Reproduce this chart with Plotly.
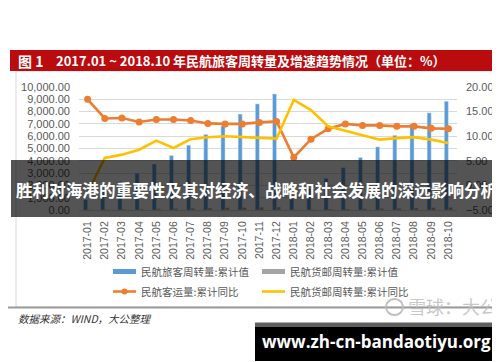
import plotly.graph_objects as go

months = ["2017-01","2017-02","2017-03","2017-04","2017-05","2017-06","2017-07","2017-08",
          "2017-09","2017-10","2017-11","2017-12","2018-01","2018-02","2018-03","2018-04",
          "2018-05","2018-06","2018-07","2018-08","2018-09","2018-10"]
passenger_rpk_cum = [850, 1640, 2300, 3000, 3740, 4440, 5270, 6150, 6830, 7800, 8630, 9435,
                     880, 1760, 2580, 3440, 4270, 5135, 6075, 7015, 7900, 8845]
cargo_tk_cum = [18, 37, 57, 77, 98, 118, 139, 159, 180, 201, 222, 243,
                19, 38, 60, 81, 103, 125, 147, 169, 191, 213]
passenger_yoy = [17.5, 13.6, 13.7, 12.9, 13.4, 13.4, 13.2, 12.6, 12.5, 12.5, 12.8, 13.0,
                 5.7, 9.4, 11.5, 12.5, 12.2, 12.2, 12.0, 12.0, 11.6, 11.5]
cargo_yoy = [-1.5, 5.6, 6.25, 7.25, 9.1, 7.6, 9.4, 9.8, 10.0, 9.85, 9.6, 9.5,
             17.4, 15.3, 12.0, 11.1, 10.3, 9.3, 9.6, 9.8, 9.3, 8.6]

legend_names = ["民航旅客周转量:累计值", "民航货邮周转量:累计值", "民航客运量:累计同比", "民航货邮周转量:累计同比"]
title_text = "2017.01 ~ 2018.10 年民航旅客周转量及增速趋势情况（单位：%）"
overlay_text = "胜利对海港的重要性及其对经济、战略和社会发展的深远影响分析"
source_text = "数据来源：WIND，大公整理"
url_text = "www.zh-cn-bandaotiyu.org"

W, H = 500, 362
L, R, T, B = 71, 449, 79, 202
def px(x):
    return (x - L) / (R - L)
def py(y):
    return (B - y) / (B - T)

BLUE, GRAY, ORANGE, YELLOW = "#5B9BD5", "#A5A5A5", "#ED7D31", "#FFC000"
CJK = "Noto Sans CJK SC"
TXT = "#595959"

fig = go.Figure()
fig.add_bar(x=months, y=passenger_rpk_cum, name=legend_names[0], marker_color=BLUE)
fig.add_bar(x=months, y=cargo_tk_cum, name=legend_names[1], marker_color=GRAY)
fig.add_scatter(x=months, y=passenger_yoy, name=legend_names[2], yaxis="y2", mode="lines+markers",
                line=dict(color=ORANGE, width=2.6), marker=dict(color=ORANGE, size=7))
fig.add_scatter(x=months, y=cargo_yoy, name=legend_names[3], yaxis="y2", mode="lines",
                line=dict(color=YELLOW, width=2.6))

shapes = []
annotations = []

# chart frame
shapes.append(dict(type="rect", xref="paper", yref="paper", x0=px(8), x1=px(493), y0=py(299), y1=py(63),
                   line=dict(color="#D9D9D9", width=1), fillcolor="rgba(0,0,0,0)", layer="below"))
shapes.append(dict(type="line", xref="paper", yref="paper", x0=px(0), x1=px(500), y0=py(299.5), y1=py(299.5),
                   line=dict(color="#9A9A9A", width=2)))
# title banner
shapes.append(dict(type="rect", xref="paper", yref="paper", x0=px(2), x1=px(497), y0=py(63), y1=py(42),
                   line=dict(width=0), fillcolor="#BA0C0F"))
annotations.append(dict(xref="paper", yref="paper", x=px(8), y=py(52.5), xanchor="left", yanchor="middle",
                        text="<b>图 1</b>", showarrow=False, font=dict(family=CJK, size=14, color="white")))
annotations.append(dict(xref="paper", yref="paper", x=px(46), y=py(52.5), xanchor="left", yanchor="middle",
                        text="<b>" + title_text + "</b>", showarrow=False,
                        font=dict(family=CJK, size=13, color="white")))

# custom legend
lx1, lx2 = 105, 254
ly1, ly2 = 263.5, 283.5
shapes.append(dict(type="rect", xref="paper", yref="paper", x0=px(lx1), x1=px(lx1 + 23), y0=py(ly1 + 2.5), y1=py(ly1 - 2.5),
                   line=dict(width=0), fillcolor=BLUE))
shapes.append(dict(type="rect", xref="paper", yref="paper", x0=px(lx2), x1=px(lx2 + 23), y0=py(ly1 + 2.5), y1=py(ly1 - 2.5),
                   line=dict(width=0), fillcolor=GRAY))
shapes.append(dict(type="line", xref="paper", yref="paper", x0=px(lx1), x1=px(lx1 + 23), y0=py(ly2), y1=py(ly2),
                   line=dict(color=ORANGE, width=2.6)))
shapes.append(dict(type="circle", xref="paper", yref="paper", x0=px(lx1 + 8.5), x1=px(lx1 + 14.5), y0=py(ly2 + 3), y1=py(ly2 - 3),
                   line=dict(width=0), fillcolor=ORANGE))
shapes.append(dict(type="line", xref="paper", yref="paper", x0=px(lx2), x1=px(lx2 + 23), y0=py(ly2), y1=py(ly2),
                   line=dict(color=YELLOW, width=2.6)))
for (x, y, t) in [(lx1 + 26, ly1, legend_names[0]), (lx2 + 26, ly1, legend_names[1]),
                  (lx1 + 26, ly2, legend_names[2]), (lx2 + 26, ly2, legend_names[3])]:
    annotations.append(dict(xref="paper", yref="paper", x=px(x), y=py(y), xanchor="left", yanchor="middle",
                            text=t, showarrow=False, font=dict(family=CJK, size=10.5, color=TXT)))

# source
annotations.append(dict(xref="paper", yref="paper", x=px(8), y=py(310.5), xanchor="left", yanchor="middle",
                        text="<i>" + source_text + "</i>", showarrow=False,
                        font=dict(family=CJK, size=10.5, color="#333333")))

# watermark
shapes.append(dict(type="circle", xref="paper", yref="paper", x0=px(378), x1=px(395), y0=py(307), y1=py(291),
                   line=dict(color="rgba(185,185,185,0.9)", width=2), fillcolor="rgba(0,0,0,0)"))
annotations.append(dict(xref="paper", yref="paper", x=px(445), y=py(298), xanchor="center", yanchor="middle",
                        text="雪球：大公", showarrow=False,
                        font=dict(family=CJK, size=18, color="rgba(190,190,190,0.85)")))

# black url box
shapes.append(dict(type="rect", xref="paper", yref="paper", x0=px(247), x1=px(490), y0=py(353), y1=py(315),
                   line=dict(width=0), fillcolor="#000000"))
shapes.append(dict(type="rect", xref="paper", yref="paper", x0=px(247), x1=px(490), y0=py(319), y1=py(314.5),
                   line=dict(width=0), fillcolor="#5F5F5F"))
annotations.append(dict(xref="paper", yref="paper", x=px(368.5), y=py(333), xanchor="center", yanchor="middle",
                        text="<b>" + url_text + "</b>", showarrow=False,
                        font=dict(family="Open Sans", size=17, color="white")))

# overlay band
shapes.append(dict(type="rect", xref="paper", yref="paper", x0=px(3), x1=px(497), y0=py(209), y1=py(152),
                   line=dict(width=0), fillcolor="rgba(0,0,0,0.67)", layer="above"))
annotations.append(dict(xref="paper", yref="paper", x=px(249), y=py(182), xanchor="center", yanchor="middle",
                        text="<b>" + overlay_text + "</b>", showarrow=False,
                        font=dict(family=CJK, size=16.6, color="white")))

fig.update_layout(
    width=W, height=H, autosize=False,
    margin=dict(l=L, r=W - R, t=T, b=H - B, pad=0),
    paper_bgcolor="white", plot_bgcolor="white",
    showlegend=False,
    barmode="group", bargap=0.52, bargroupgap=0.0,
    xaxis=dict(type="category", range=[-0.5, 21.5], tickangle=-90, showgrid=False,
               showline=True, linecolor="#D9D9D9", ticks="",
               tickfont=dict(family="Liberation Sans", size=10.5, color=TXT), ticklabelstandoff=6),
    yaxis=dict(range=[0, 10000], tickvals=list(range(0, 10001, 1000)), tickformat=",.2f",
               showgrid=True, gridcolor="#D9D9D9", gridwidth=1, zeroline=False, showline=False,
               tickfont=dict(family="Liberation Sans", size=11, color=TXT), ticklabelstandoff=8),
    yaxis2=dict(range=[-5, 20], tickvals=[-5, 0, 5, 10, 15, 20], tickformat=".2f", overlaying="y", side="right",
                showgrid=False, zeroline=False, showline=False,
                tickfont=dict(family="Liberation Sans", size=11, color=TXT), ticklabelstandoff=8),
    shapes=shapes, annotations=annotations,
)

fig.write_html("out.html")
